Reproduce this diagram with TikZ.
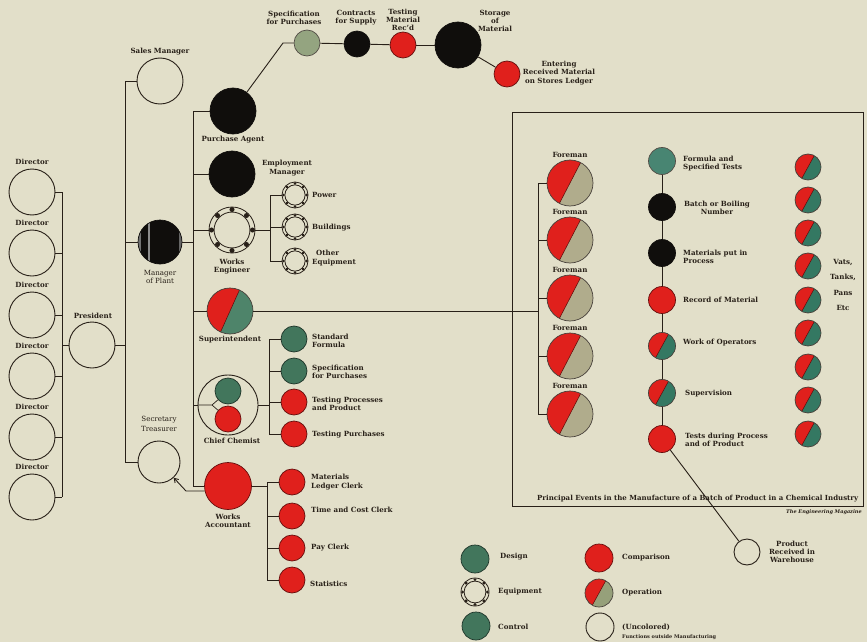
\documentclass[tikz,border=0pt]{standalone}
\usepackage{fontspec}
\setmainfont{DejaVu Serif}
\usetikzlibrary{calc,arrows.meta}
\definecolor{paper}{RGB}{226,223,201}
\definecolor{ink}{RGB}{40,32,24}
\definecolor{cred}{RGB}{224,32,28}
\definecolor{cgreen}{RGB}{66,118,92}
\definecolor{cteal}{RGB}{52,120,98}
\definecolor{csup}{RGB}{78,132,106}
\definecolor{cpale}{RGB}{148,164,128}
\definecolor{ctan}{RGB}{176,172,140}
\definecolor{cop}{RGB}{150,160,122}
\definecolor{cblack}{RGB}{16,14,12}
\begin{document}
\begin{tikzpicture}[x=1pt,y=-1pt,
  conn/.style={draw=ink, line width=0.9pt},
  lbl/.style={font=\fontsize{7.1}{8.3}\selectfont\bfseries, text=ink, inner sep=0pt, align=center},
  lbll/.style={lbl, align=left, anchor=west},
  lite/.style={font=\fontsize{7.1}{8.3}\selectfont, text=ink, inner sep=0pt, align=center},
  ball/.style={circle, inner sep=0pt, minimum size=#1, line width=0.7pt},
  openb/.style={ball=#1, draw=ink, line width=0.9pt},
  redb/.style={ball=#1, fill=cred, draw=cred!45!black},
  blkb/.style={ball=#1, fill=cblack, draw=cblack},
  grnb/.style={ball=#1, fill=cgreen, draw=cgreen!45!black},
  splitb/.style n args={4}{ball=#1, fill=#3, draw=ink!85, path picture={
     \fill[#2] (path picture bounding box.north west) --
       ($(path picture bounding box.north)!#4!(path picture bounding box.north east)$) --
       ($(path picture bounding box.south)!#4!(path picture bounding box.south west)$) --
       (path picture bounding box.south west) -- cycle;
     \draw[cred!40!black, line width=0.5pt]
       ($(path picture bounding box.north)!#4!(path picture bounding box.north east)$) --
       ($(path picture bounding box.south)!#4!(path picture bounding box.south west)$);}},
  equipb/.style={ball=#1, draw=ink, line width=0.8pt, path picture={
     \draw[ink, line width=0.8pt] (path picture bounding box.center) circle[radius=0.39*#1];
     \foreach \a in {0,45,...,315}
       \node[fill=ink, inner sep=0pt, minimum size=0.11*#1, rotate=-\a]
         at ($(path picture bounding box.center)+(\a:0.445*#1)$) {};}},
  mgrb/.style={ball=#1, fill=cblack, draw=cblack, path picture={
     \fill[black!55] (path picture bounding box.north west) rectangle
       ($(path picture bounding box.south west)+(3,0)$);
     \fill[black!45] ($(path picture bounding box.north west)!0.22!(path picture bounding box.north east)$) rectangle
       ($(path picture bounding box.south west)!0.27!(path picture bounding box.south east)$);
     \fill[black!60] ($(path picture bounding box.north east)+(-3,0)$) rectangle
       (path picture bounding box.south east);}}
]
\fill[paper] (0,0) rectangle (867,642);
\useasboundingbox (0,0) rectangle (867,642);

% ---------------- directors ----------------
\foreach \i/\y in {1/192,2/253,3/315,4/376,5/437,6/497}{
  \node[openb=46] (d\i) at (32,\y) {};
  \node[lbl] (dl\i) at (32,\y-30) {Director};
}
\node[openb=46] (pres) at (92,345) {};
\node[lbl] (presl) at (93,316) {President};
\coordinate (dbar) at (62,345);
\foreach \i in {1,...,6} \draw[conn] (d\i.east) -- (d\i.east -| dbar);
\draw[conn] (d1.east -| dbar) -- (d6.east -| dbar);
\draw[conn] (dbar) -- (pres.west);

% ---------------- second level ----------------
\node[openb=46] (sales) at (160,81) {};
\node[lbl] (salesl) at (160,52) {Sales Manager};
\node[mgrb=44] (mgr) at (160,242) {};
\node[lite] (mgrl) at (160,277) {Manager\\of Plant};
\node[openb=42] (sec) at (159,462) {};
\node[lite] (secl) at (159,424) {Secretary\\[2pt]Treasurer};
\coordinate (bar2) at (125,345);
\draw[conn] (pres.east) -- (bar2);
\draw[conn] (sales.west -| bar2) -- (sec.west -| bar2);
\draw[conn] (sales.west -| bar2) -- (sales.west);
\draw[conn] (mgr.west -| bar2) -- (mgr.west);
\draw[conn] (sec.west -| bar2) -- (sec.west);

% ---------------- third level ----------------
\node[blkb=46] (pa) at (233,111) {};
\node[lbl] (pal) at (233,140) {Purchase Agent};
\node[blkb=46] (emp) at (232,174) {};
\node[lbl] (empl) at (287,168) {Employment\\Manager};
\node[equipb=46] (we) at (232,230) {};
\node[lbl] (wel) at (232,266.5) {Works\\Engineer};
\node[splitb={46}{cred}{csup}{0.45}] (sup) at (230,311) {};
\node[lbl] (supl) at (230,340) {Superintendent};
\node[openb=60] (cc) at (228,405) {};
\node[grnb=26] (ccg) at (228,391) {};
\node[redb=26] (ccr) at (228,419) {};
\node[lbl] (ccl) at (232,441) {Chief Chemist};
\node[redb=47] (wa) at (228,486) {};
\node[lbl] (wal) at (228,521) {Works\\Accountant};
\coordinate (bar3) at (193,242);
\draw[conn] (mgr.east) -- (bar3);
\draw[conn] (pa.west -| bar3) -- (wa.west -| bar3);
\foreach \n in {pa,emp,we,sup,cc,wa} \draw[conn] (\n.west -| bar3) -- (\n.west);
\coordinate (ccj) at (212,405);
\draw[conn, line width=0.7pt] (cc.west) -- (ccj) -- (ccg);
\draw[conn, line width=0.7pt] (ccj) -- (ccr);
\coordinate (waC) at (186,491);
\draw[conn, -{Straight Barb[length=4pt,width=5pt]}] (wa.192) -- (waC) -- (sec);

% ---------------- purchasing chain ----------------
\node[ball=26, fill=cpale, draw=ink!80] (spec) at (307,43) {};
\node[lbl] (specl) at (294,18) {Specification\\for Purchases};
\node[blkb=26] (contr) at (357,44) {};
\node[lbl] (contrl) at (356,18) {Contracts\\for Supply};
\node[redb=26] (testm) at (403,45) {};
\node[lbl] (testml) at (403,20) {Testing\\Material\\Rec'd};
\node[blkb=46] (stor) at (458,45) {};
\node[lbl] (storl) at (495,21) {Storage\\of\\Material};
\node[redb=26] (enter) at (507,74) {};
\node[lbl] (enterl) at (559,73) {Entering\\Received Material\\on Stores Ledger};
\coordinate (paC) at (283,43);
\draw[conn] (pa) -- (paC) -- (spec);
\draw[conn] (spec) -- (contr);
\draw[conn] (contr) -- (testm);
\draw[conn] (testm) -- (stor);
\draw[conn] (stor) -- (enter);

% ---------------- works engineer ----------------
\node[equipb=26] (pow) at (295,195) {};
\node[lbll] (powl) at (312,195) {Power};
\node[equipb=26] (bld) at (295,227) {};
\node[lbll] (bldl) at (312,228) {Buildings};
\node[equipb=26] (oth) at (295,261) {};
\node[lbll] (othl) at (312,258) {\hspace*{4pt}Other\\Equipment};
\coordinate (webar) at (270,230);
\draw[conn] (we.east) -- (webar);
\draw[conn] (pow.west -| webar) -- (oth.west -| webar);
\foreach \n in {pow,bld,oth} \draw[conn] (\n.west -| webar) -- (\n.west);

% ---------------- chief chemist ----------------
\node[grnb=26] (sf) at (294,339) {};
\node[lbll] (sfl) at (312,341) {Standard\\Formula};
\node[grnb=26] (sp) at (294,371) {};
\node[lbll] (spl) at (312,372) {Specification\\for Purchases};
\node[redb=26] (tp) at (294,402) {};
\node[lbll] (tpl) at (312,404) {Testing Processes\\and Product};
\node[redb=26] (tpu) at (294,434) {};
\node[lbll] (tpul) at (312,435) {Testing Purchases};
\coordinate (ccbar) at (269,405);
\draw[conn] (cc.east) -- (ccbar);
\draw[conn] (sf.west -| ccbar) -- (tpu.west -| ccbar);
\foreach \n in {sf,sp,tp,tpu} \draw[conn] (\n.west -| ccbar) -- (\n.west);

% ---------------- works accountant ----------------
\node[redb=26] (mlc) at (292,482) {};
\node[lbll] (mlcl) at (311,482) {Materials\\Ledger Clerk};
\node[redb=26] (tcc) at (292,516) {};
\node[lbll] (tccl) at (311,510) {Time and Cost Clerk};
\node[redb=26] (pay) at (292,548) {};
\node[lbll] (payl) at (311,548) {Pay Clerk};
\node[redb=26] (stat) at (292,580) {};
\node[lbll] (statl) at (310,584) {Statistics};
\coordinate (wabar) at (267,486);
\draw[conn] (wa.east) -- (wabar);
\draw[conn] (mlc.west -| wabar) -- (stat.west -| wabar);
\foreach \n in {mlc,tcc,pay,stat} \draw[conn] (\n.west -| wabar) -- (\n.west);

% ---------------- manufacture box ----------------
\draw[ink, line width=1pt] (512,112) rectangle (863,506);
\foreach \i/\y in {1/183,2/240,3/298,4/356,5/414}{
  \node[splitb={46}{cred}{ctan}{0.52}] (fm\i) at (570,\y) {};
  \node[lbl] (fml\i) at (570,\y-28) {Foreman};
}
\coordinate (fbar) at (538,311);
\draw[conn] (sup.east) -- (fbar);
\draw[conn] (fm1.west -| fbar) -- (fm5.west -| fbar);
\foreach \i in {1,...,5} \draw[conn] (fm\i.west -| fbar) -- (fm\i.west);

\node[ball=27, fill=cteal!90!white, draw=ink!80] (pr1) at (662,161) {};
\node[lbll] (prl1) at (683,163.5) {Formula and\\Specified Tests};
\node[blkb=27] (pr2) at (662,207) {};
\node[lbl] (prl2) at (717,208) {Batch or Boiling\\Number};
\node[blkb=27] (pr3) at (662,253) {};
\node[lbll] (prl3) at (683,257) {Materials put in\\Process};
\node[redb=27] (pr4) at (662,300) {};
\node[lbll] (prl4) at (683,300) {Record of Material};
\node[splitb={27}{cred}{cteal}{0.55}] (pr5) at (662,346) {};
\node[lbll] (prl5) at (683,343) {Work of Operators};
\node[splitb={27}{cred}{cteal}{0.55}] (pr6) at (662,393) {};
\node[lbll] (prl6) at (685,394) {Supervision};
\node[redb=27] (pr7) at (662,439) {};
\node[lbll] (prl7) at (685,439.5) {Tests during Process\\and of Product};
\foreach \a/\b in {1/2,2/3,3/4,4/5,5/6,6/7} \draw[conn] (pr\a) -- (pr\b);

\foreach \i/\y in {1/167,2/200,3/233,4/266,5/300,6/333,7/367,8/400,9/434}
  \node[splitb={26}{cred}{cteal}{0.55}] (v\i) at (808,\y) {};
\node[lbl] (vl) at (843,285) {Vats,\\[7pt]Tanks,\\[7pt]Pans\\[7pt]Etc};

\node[lbl, font=\fontsize{7}{8}\selectfont\bfseries, anchor=west] (cap) at (537,499) {Principal Events in the Manufacture of a Batch of Product in a Chemical Industry};
\node[font=\fontsize{5}{6}\selectfont\bfseries\itshape, text=ink, inner sep=0pt, anchor=east] (mag) at (862,512) {The Engineering Magazine};

\node[openb=26] (prod) at (747,552) {};
\node[lbl] (prodl) at (792,552) {Product\\Received in\\Warehouse};
\draw[conn] (pr7) -- (prod);

% ---------------- legend ----------------
\node[grnb=28] (lg1) at (475,559) {};
\node[lbll] (lgl1) at (500,557) {Design};
\node[equipb=28] (lg2) at (475,592) {};
\node[lbll] (lgl2) at (498,592) {Equipment};
\node[grnb=28] (lg3) at (476,626) {};
\node[lbll] (lgl3) at (498,627) {Control};
\node[redb=28] (lg4) at (599,558) {};
\node[lbll] (lgl4) at (622,558) {Comparison};
\node[splitb={28}{cred}{cop}{0.55}] (lg5) at (599,593) {};
\node[lbll] (lgl5) at (622,593) {Operation};
\node[openb=28] (lg6) at (600,627) {};
\node[lbll] (lgl6) at (622,627) {(Uncolored)};
\node[font=\fontsize{5}{6}\selectfont\bfseries, text=ink, inner sep=0pt, anchor=west] (lgl7) at (622,637) {Functions outside Manufacturing};
\end{tikzpicture}
\end{document}
